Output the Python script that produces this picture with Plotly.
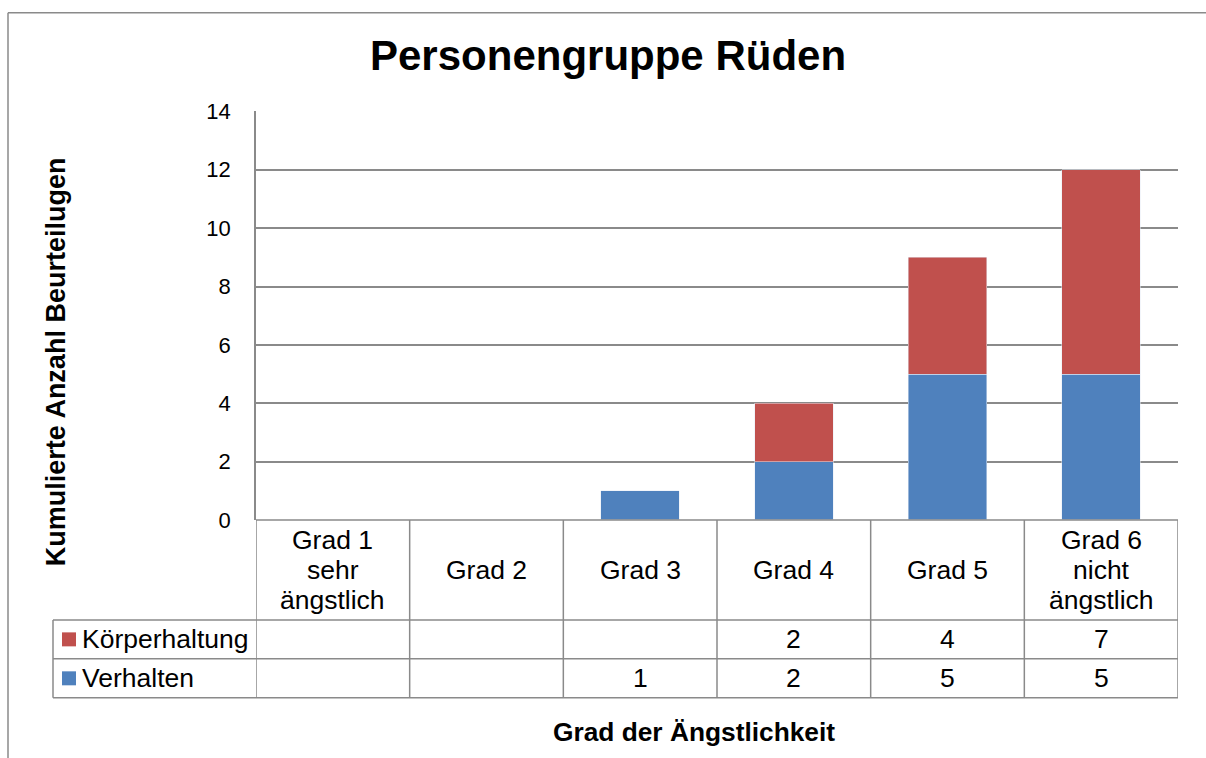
import plotly.graph_objects as go

# ---- data ----
categories = ["Grad 1<br>sehr<br>ängstlich", "Grad 2", "Grad 3", "Grad 4", "Grad 5",
              "Grad 6<br>nicht<br>ängstlich"]
verhalten = [None, None, 1, 2, 5, 5]
koerperhaltung = [None, None, None, 2, 4, 7]
series_names = ["Körperhaltung", "Verhalten"]
title_text = "Personengruppe Rüden"
y_title = "Kumulierte Anzahl Beurteilugen"
x_title = "Grad der Ängstlichkeit"

# ---- style ----
W, H = 1206, 758
BLUE = "#4F81BD"
RED = "#C0504D"
GRID = "#8a8a8a"
FONT = "Liberation Sans, Arial, sans-serif"
TXT = 26.5

# vertical calibration of the photographed page
Y_SCALE, Y_OFF = 0.968, 11.5

PLOT_L, PLOT_R, PLOT_T, PLOT_B = 256, 1178, 111, 520
ROW_HDR_B, ROW1_B, ROW2_B = 620, 659, 698
LEG_L = 53


def px(x):
    return x / W


def py(y):
    yy = (y - Y_OFF) / Y_SCALE
    yy = max(0.75, yy)
    return 1 - yy / H


xs = list(range(len(categories)))

fig = go.Figure()
fig.add_trace(go.Bar(x=xs, y=verhalten, name=series_names[1], marker_color=BLUE,
                     width=0.51, showlegend=False))
fig.add_trace(go.Bar(x=xs, y=koerperhaltung, name=series_names[0], marker_color=RED,
                     width=0.51, showlegend=False))

shapes = []
annotations = []
line = dict(color=GRID, width=1.5)

# outer chart border (cropped at right/bottom)
shapes.append(dict(type="line", xref="paper", yref="paper", x0=px(8), x1=px(W + 5),
                   y0=py(8.5), y1=py(8.5), line=line))
shapes.append(dict(type="line", xref="paper", yref="paper", x0=px(8), x1=px(8),
                   y0=py(8.5), y1=-0.05, line=line))

# table horizontal lines
shapes.append(dict(type="line", xref="x", yref="paper", x0=-0.5, x1=len(xs) - 0.5,
                   y0=py(PLOT_B), y1=py(PLOT_B), line=line))
for yy in (ROW_HDR_B, ROW1_B, ROW2_B):
    shapes.append(dict(type="line", xref="paper", yref="paper", x0=px(LEG_L), x1=px(PLOT_R),
                       y0=py(yy), y1=py(yy), line=line))
# table vertical lines
for i in range(len(xs) + 1):
    shapes.append(dict(type="line", xref="x", yref="paper", x0=i - 0.5, x1=i - 0.5,
                       y0=py(PLOT_B), y1=py(ROW2_B), line=line))
shapes.append(dict(type="line", xref="paper", yref="paper", x0=px(LEG_L), x1=px(LEG_L),
                   y0=py(ROW_HDR_B), y1=py(ROW2_B), line=line))

# header cells
hdr_center = (PLOT_B + ROW_HDR_B) / 2
lh = 30
for i, cat in enumerate(categories):
    parts = cat.split("<br>")
    n = len(parts)
    for k, p in enumerate(parts):
        yc = hdr_center + (k - (n - 1) / 2) * lh
        annotations.append(dict(x=i, y=py(yc), xref="x", yref="paper", text=p,
                                showarrow=False, xanchor="center", yanchor="middle",
                                font=dict(size=TXT, color="black", family=FONT)))

# data rows
rows = [(series_names[0], koerperhaltung, RED, (ROW_HDR_B + ROW1_B) / 2),
        (series_names[1], verhalten, BLUE, (ROW1_B + ROW2_B) / 2)]
for name, vals, col, yc in rows:
    shapes.append(dict(type="rect", xref="paper", yref="paper", x0=px(62), x1=px(76),
                       y0=py(yc + 7), y1=py(yc - 7), fillcolor=col, line=dict(width=0)))
    annotations.append(dict(x=px(80), y=py(yc), xref="paper", yref="paper", text=name,
                            showarrow=False, xanchor="left", yanchor="middle",
                            font=dict(size=TXT, color="black", family=FONT)))
    for i, v in enumerate(vals):
        if v is None:
            continue
        annotations.append(dict(x=i, y=py(yc), xref="x", yref="paper", text=str(v),
                                showarrow=False, xanchor="center", yanchor="middle",
                                font=dict(size=TXT, color="black", family=FONT)))

# titles
annotations.append(dict(x=px(608), y=py(55), xref="paper", yref="paper", text=f"<b>{title_text}</b>",
                        showarrow=False, xanchor="center", yanchor="middle",
                        font=dict(size=42, color="black", family=FONT)))
annotations.append(dict(x=px(56), y=py(362), xref="paper", yref="paper", text=f"<b>{y_title}</b>",
                        showarrow=False, xanchor="center", yanchor="middle", textangle=-90,
                        font=dict(size=27, color="black", family=FONT)))
annotations.append(dict(x=px(694), y=py(732), xref="paper", yref="paper", text=f"<b>{x_title}</b>",
                        showarrow=False, xanchor="center", yanchor="middle",
                        font=dict(size=26.3, color="black", family=FONT)))

fig.update_layout(
    width=W, height=H, autosize=False,
    margin=dict(l=0, r=0, t=0, b=0, pad=0),
    paper_bgcolor="white", plot_bgcolor="white",
    barmode="stack",
    showlegend=False,
    font=dict(family=FONT, color="black"),
    xaxis=dict(domain=[px(PLOT_L), px(PLOT_R)], range=[-0.5, len(xs) - 0.5],
               showticklabels=False, showgrid=False, zeroline=False, showline=False,
               ticks=""),
    yaxis=dict(domain=[py(PLOT_B), py(PLOT_T)], range=[0, 14], dtick=2,
               showgrid=True, gridcolor=GRID, gridwidth=1.5,
               zeroline=False, showline=True, linecolor=GRID, linewidth=1.5,
               ticks="", ticklabelstandoff=19,
               tickfont=dict(size=22, color="black", family=FONT)),
    shapes=shapes,
    annotations=annotations,
)

fig.write_html(
    "out.html",
    config={"displayModeBar": False},
    post_script="document.body.style.margin='0';document.documentElement.style.overflow='hidden';",
)
